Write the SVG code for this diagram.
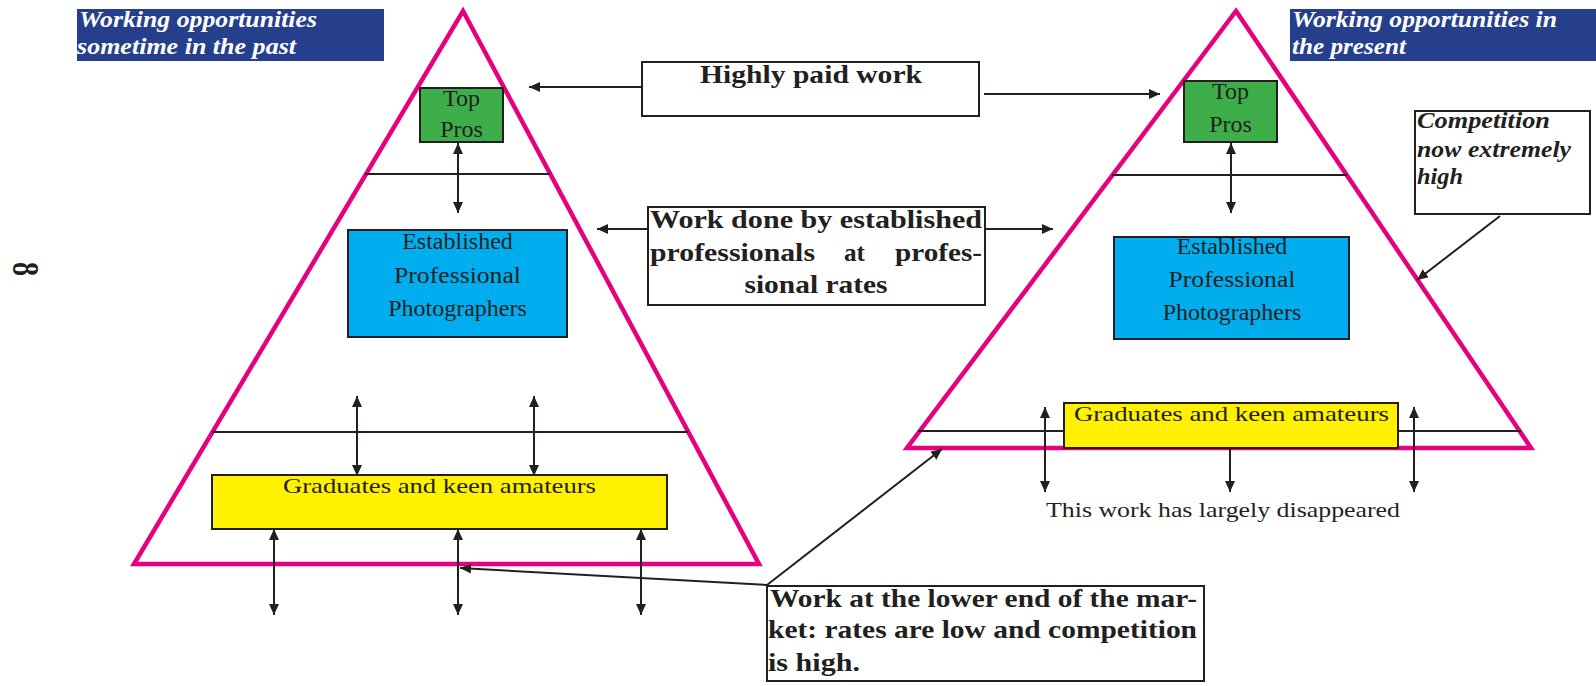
<svg xmlns="http://www.w3.org/2000/svg" width="1596" height="686" viewBox="0 0 1596 686">
  <style>
    .tri { fill: none; stroke: #E6007E; stroke-width: 4.5; stroke-linejoin: miter; }
    .sep { stroke: #231F20; stroke-width: 2; fill: none; }
    .box { stroke: #231F20; stroke-width: 2; }
    .wbox { fill: #FFFFFF; stroke: #231F20; stroke-width: 2; }
    .con { stroke: #231F20; stroke-width: 2; fill: none; }
    .serif { font-family: "Liberation Serif", "Times New Roman", serif; fill: #231F20; }
    .reg24 { font-size: 24px; }
    .reg21 { font-size: 21px; }
    .bold26 { font-size: 26px; font-weight: bold; }
    .title { font-family: "Liberation Serif", "Times New Roman", serif; font-size: 23px; font-style: italic; font-weight: bold; fill: #FFFFFF; }
    .comp { font-family: "Liberation Serif", "Times New Roman", serif; font-size: 23px; font-style: italic; font-weight: bold; fill: #231F20; }
  </style>
  <defs>
    <marker id="ah" viewBox="0 0 11 10" refX="11" refY="5" markerWidth="11" markerHeight="10" markerUnits="userSpaceOnUse" orient="auto-start-reverse">
      <path d="M0,0 L11,5 L0,10 z" fill="#231F20"/>
    </marker>
  </defs>

  <rect width="1596" height="686" fill="#FFFFFF"/>

  <!-- page number -->
  <g id="page-number">
    <text class="serif" font-weight="bold" font-size="38" text-anchor="middle" dominant-baseline="central" transform="translate(26,269) rotate(90) scale(0.74,1)">8</text>
  </g>

  <!-- titles -->
  <g id="title-past">
    <rect x="77" y="9" width="307" height="52" fill="#263F8C"/>
    <text class="title" x="79" y="27" textLength="238" lengthAdjust="spacingAndGlyphs">Working opportunities</text>
    <text class="title" x="77" y="54" textLength="219" lengthAdjust="spacingAndGlyphs">sometime in the past</text>
  </g>
  <g id="title-present">
    <rect x="1290" y="9" width="306" height="52" fill="#263F8C"/>
    <text class="title" x="1292" y="27" textLength="265" lengthAdjust="spacingAndGlyphs">Working opportunities in</text>
    <text class="title" x="1292" y="54" textLength="114" lengthAdjust="spacingAndGlyphs">the present</text>
  </g>

  <!-- pyramids -->
  <g id="pyramid-past">
    <polygon class="tri" points="463,11 759,564 134,564"/>
    <line class="sep" x1="365" y1="174" x2="550" y2="174"/>
    <line class="sep" x1="212" y1="432" x2="688" y2="432"/>
  </g>
  <g id="pyramid-present">
    <polygon class="tri" points="1236,11 1531,448 907,448"/>
    <line class="sep" x1="1112" y1="175" x2="1347" y2="175"/>
    <line class="sep" x1="918" y1="431" x2="1521" y2="431"/>
  </g>

  <!-- past nodes -->
  <g id="past-top-pros">
    <rect class="box" x="420" y="88" width="83" height="54" fill="#3DAE49"/>
    <text class="serif reg24" x="461.5" y="106" text-anchor="middle">Top</text>
    <text class="serif reg24" x="461.5" y="137" text-anchor="middle">Pros</text>
  </g>
  <g id="past-established">
    <rect class="box" x="348" y="230" width="219" height="107" fill="#00AEEF"/>
    <text class="serif reg24" x="457.5" y="249" text-anchor="middle">Established</text>
    <text class="serif reg24" x="457.5" y="283" text-anchor="middle" textLength="127" lengthAdjust="spacingAndGlyphs">Professional</text>
    <text class="serif reg24" x="457.5" y="316" text-anchor="middle">Photographers</text>
  </g>
  <g id="past-graduates">
    <rect class="box" x="212" y="475" width="455" height="54" fill="#FFF100"/>
    <text class="serif reg21" x="439.5" y="493" text-anchor="middle" textLength="313" lengthAdjust="spacingAndGlyphs">Graduates and keen amateurs</text>
  </g>

  <!-- present nodes -->
  <g id="present-top-pros">
    <rect class="box" x="1184" y="81" width="93" height="61" fill="#3DAE49"/>
    <text class="serif reg24" x="1230.5" y="99" text-anchor="middle">Top</text>
    <text class="serif reg24" x="1230.5" y="132" text-anchor="middle">Pros</text>
  </g>
  <g id="present-established">
    <rect class="box" x="1114" y="237" width="235" height="102" fill="#00AEEF"/>
    <text class="serif reg24" x="1232" y="254" text-anchor="middle">Established</text>
    <text class="serif reg24" x="1232" y="287" text-anchor="middle" textLength="127" lengthAdjust="spacingAndGlyphs">Professional</text>
    <text class="serif reg24" x="1232" y="320" text-anchor="middle">Photographers</text>
  </g>
  <g id="present-graduates">
    <rect class="box" x="1064" y="403" width="334" height="45" fill="#FFF100"/>
    <text class="serif reg21" x="1231.5" y="421" text-anchor="middle" textLength="315" lengthAdjust="spacingAndGlyphs">Graduates and keen amateurs</text>
  </g>
  <g id="disappeared-label">
    <text class="serif reg21" x="1223" y="517" text-anchor="middle" textLength="354" lengthAdjust="spacingAndGlyphs">This work has largely disappeared</text>
  </g>

  <!-- callouts -->
  <g id="highly-paid">
    <rect class="wbox" x="642" y="62" width="337" height="54"/>
    <text class="serif bold26" x="811" y="83" text-anchor="middle" textLength="222" lengthAdjust="spacingAndGlyphs">Highly paid work</text>
  </g>
  <g id="work-done">
    <rect class="wbox" x="648" y="207" width="337" height="98"/>
    <text class="serif bold26" x="650" y="228" textLength="332" lengthAdjust="spacingAndGlyphs">Work done by established</text>
    <text class="serif bold26" x="650" y="261" textLength="165" lengthAdjust="spacingAndGlyphs">professionals</text>
    <text class="serif bold26" x="844" y="261" textLength="21" lengthAdjust="spacingAndGlyphs">at</text>
    <text class="serif bold26" x="895" y="261" textLength="87" lengthAdjust="spacingAndGlyphs">profes-</text>
    <text class="serif bold26" x="816" y="293" text-anchor="middle" textLength="143" lengthAdjust="spacingAndGlyphs">sional rates</text>
  </g>
  <g id="competition">
    <rect class="wbox" x="1415" y="111" width="175" height="103"/>
    <text class="comp" x="1417" y="128" textLength="133" lengthAdjust="spacingAndGlyphs">Competition</text>
    <text class="comp" x="1417" y="157" textLength="154" lengthAdjust="spacingAndGlyphs">now extremely</text>
    <text class="comp" x="1417" y="184" textLength="46" lengthAdjust="spacingAndGlyphs">high</text>
  </g>
  <g id="lower-end">
    <rect class="wbox" x="767" y="586" width="437" height="95"/>
    <text class="serif bold26" x="770" y="607" textLength="427" lengthAdjust="spacingAndGlyphs">Work at the lower end of the mar-</text>
    <text class="serif bold26" x="768" y="638" textLength="429" lengthAdjust="spacingAndGlyphs">ket: rates are low and competition</text>
    <text class="serif bold26" x="768" y="671" textLength="92" lengthAdjust="spacingAndGlyphs">is high.</text>
  </g>

  <!-- connectors -->
  <g id="connectors" class="con">
    <line x1="458" y1="143" x2="458" y2="213" marker-start="url(#ah)" marker-end="url(#ah)"/>
    <line x1="357" y1="396" x2="357" y2="476" marker-start="url(#ah)" marker-end="url(#ah)"/>
    <line x1="534" y1="396" x2="534" y2="476" marker-start="url(#ah)" marker-end="url(#ah)"/>
    <line x1="274" y1="529" x2="274" y2="615" marker-start="url(#ah)" marker-end="url(#ah)"/>
    <line x1="458" y1="529" x2="458" y2="615" marker-start="url(#ah)" marker-end="url(#ah)"/>
    <line x1="641" y1="529" x2="641" y2="615" marker-start="url(#ah)" marker-end="url(#ah)"/>

    <line x1="1231" y1="143" x2="1231" y2="213" marker-start="url(#ah)" marker-end="url(#ah)"/>
    <line x1="1045" y1="407" x2="1045" y2="492" marker-start="url(#ah)" marker-end="url(#ah)"/>
    <line x1="1414" y1="407" x2="1414" y2="492" marker-start="url(#ah)" marker-end="url(#ah)"/>
    <line x1="1230" y1="448" x2="1230" y2="492" marker-end="url(#ah)"/>

    <line x1="642" y1="87" x2="529" y2="87" marker-end="url(#ah)"/>
    <line x1="984" y1="94" x2="1160" y2="94" marker-end="url(#ah)"/>
    <line x1="648" y1="229" x2="597" y2="229" marker-end="url(#ah)"/>
    <line x1="985" y1="229" x2="1053" y2="229" marker-end="url(#ah)"/>

    <line x1="767" y1="585" x2="460" y2="568" marker-end="url(#ah)"/>
    <line x1="767" y1="585" x2="942" y2="449" marker-end="url(#ah)"/>
    <line x1="1500" y1="216" x2="1417" y2="280" marker-end="url(#ah)"/>
  </g>
</svg>
